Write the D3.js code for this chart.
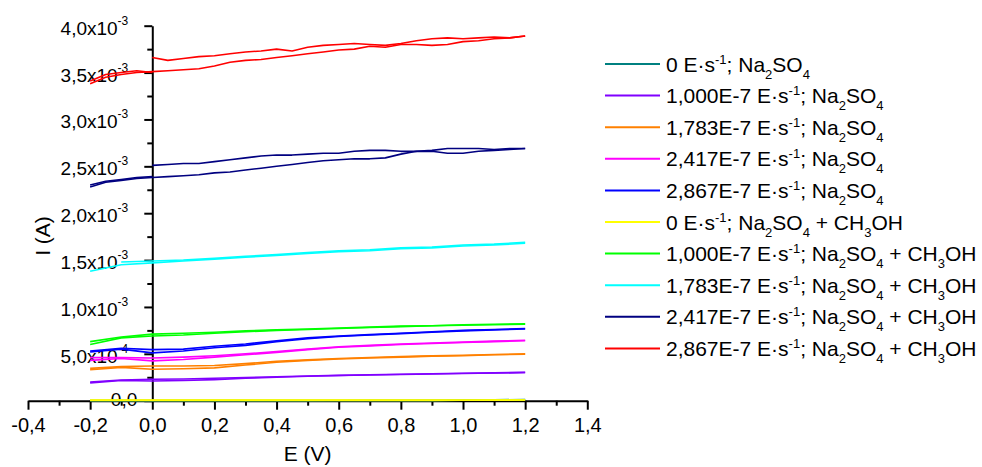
<!doctype html>
<meta charset="utf-8">
<script src="https://d3js.org/d3.v7.min.js"></script>
<style>
  body { margin: 0; background: #fff; }
  text { font-family: "Liberation Sans", Arial, sans-serif; fill: #000; }
</style>
<body>
<svg width="982" height="467"></svg>
<script>
// potential grids (V)
var eFine = [-0.2, -0.15, -0.1, -0.05, 0, 0.05, 0.1, 0.15, 0.2, 0.25, 0.3, 0.35, 0.4, 0.45, 0.5,
  0.55, 0.6, 0.65, 0.7, 0.75, 0.8, 0.85, 0.9, 0.95, 1.0, 1.05, 1.1, 1.15, 1.2];
var eCoarse = [-0.2, -0.1, 0, 0.1, 0.2, 0.3, 0.4, 0.5, 0.6, 0.7, 0.8, 0.9, 1.0, 1.1, 1.2];

// currents in mA (x 1e-3 A), forward and reverse sweep
var tealFwd = [0.002, 0.002, 0.002, 0.002, 0.002, 0.002, 0.002, 0.002, 0.002, 0.003, 0.003, 0.004, 0.006, 0.010, 0.012];
var tealRev = [0.001, 0.001, 0.001, 0.001, 0.001, 0.001, 0.001, 0.001, 0.002, 0.002, 0.002, 0.003, 0.005, 0.008, 0.010];
var violetFwd = [0.19, 0.215, 0.21, 0.215, 0.225, 0.24, 0.25, 0.26, 0.268, 0.274, 0.28, 0.285, 0.29, 0.295, 0.30];
var violetRev = [0.20, 0.22, 0.228, 0.232, 0.239, 0.247, 0.255, 0.263, 0.27, 0.276, 0.282, 0.287, 0.292, 0.297, 0.302];
var orangeFwd = [0.33, 0.355, 0.335, 0.34, 0.35, 0.38, 0.41, 0.43, 0.445, 0.455, 0.465, 0.475, 0.48, 0.49, 0.495];
var orangeRev = [0.345, 0.365, 0.37, 0.37, 0.375, 0.395, 0.42, 0.435, 0.45, 0.46, 0.47, 0.478, 0.485, 0.492, 0.50];
var magentaFwd = [0.43, 0.45, 0.425, 0.44, 0.465, 0.49, 0.515, 0.545, 0.57, 0.585, 0.60, 0.61, 0.62, 0.63, 0.64];
var magentaRev = [0.46, 0.46, 0.455, 0.465, 0.48, 0.50, 0.525, 0.55, 0.575, 0.59, 0.605, 0.615, 0.625, 0.635, 0.645];
var blueFwd = [0.52, 0.55, 0.51, 0.53, 0.565, 0.59, 0.63, 0.66, 0.685, 0.70, 0.715, 0.73, 0.745, 0.755, 0.765];
var blueRev = [0.53, 0.56, 0.545, 0.55, 0.58, 0.605, 0.64, 0.67, 0.69, 0.705, 0.72, 0.735, 0.75, 0.76, 0.77];
var yellowFwd = [0.006, 0.006, 0.006, 0.006, 0.006, 0.006, 0.006, 0.006, 0.006, 0.006, 0.006, 0.006, 0.007, 0.008, 0.008];
var yellowRev = [0.004, 0.004, 0.004, 0.004, 0.004, 0.004, 0.004, 0.004, 0.004, 0.004, 0.004, 0.004, 0.005, 0.006, 0.007];
var greenFwd = [0.60, 0.67, 0.69, 0.70, 0.72, 0.735, 0.75, 0.76, 0.77, 0.78, 0.79, 0.80, 0.805, 0.81, 0.815];
var greenRev = [0.63, 0.68, 0.71, 0.72, 0.73, 0.745, 0.755, 0.765, 0.775, 0.785, 0.795, 0.80, 0.81, 0.815, 0.82];
var cyanFwd = [1.38, 1.45, 1.47, 1.49, 1.51, 1.53, 1.55, 1.57, 1.59, 1.60, 1.62, 1.63, 1.65, 1.66, 1.68];
var cyanRev = [null, 1.48, 1.49, 1.50, 1.52, 1.54, 1.56, 1.58, 1.60, 1.61, 1.63, 1.64, 1.66, 1.67, 1.69];
var navyFwd = [2.28, 2.33, 2.35, 2.37, 2.38, 2.39, 2.40, 2.41, 2.43, 2.44, 2.46, 2.48, 2.50, 2.52, 2.54,
  2.56, 2.57, 2.58, 2.58, 2.59, 2.63, 2.66, 2.66, 2.64, 2.64, 2.66, 2.67, 2.68, 2.69];
var navyRev = [null, null, null, null, 2.51, 2.52, 2.53, 2.53, 2.55, 2.57, 2.59, 2.61, 2.62, 2.62, 2.63,
  2.64, 2.64, 2.66, 2.67, 2.67, 2.66, 2.66, 2.67, 2.69, 2.69, 2.69, 2.68, 2.69, 2.69];
// dense start region (-0.2 .. 0 V), second pass
var navyStart = [2.30, 2.34, 2.36, 2.38, 2.39];
var redFwd = [3.38, 3.45, 3.48, 3.50, 3.51, 3.52, 3.53, 3.54, 3.57, 3.61, 3.63, 3.64, 3.66, 3.68, 3.70,
  3.72, 3.74, 3.75, 3.78, 3.77, 3.80, 3.80, 3.79, 3.80, 3.83, 3.84, 3.86, 3.87, 3.89];
var redRev = [null, null, null, null, 3.66, 3.63, 3.65, 3.67, 3.68, 3.70, 3.72, 3.73, 3.75, 3.73, 3.77,
  3.79, 3.80, 3.81, 3.80, 3.79, 3.81, 3.84, 3.86, 3.87, 3.86, 3.87, 3.88, 3.87, 3.89];
var redStart = [3.41, 3.48, 3.50, 3.52, 3.50];

var rates = ["0", "1,000E-7", "1,783E-7", "2,417E-7", "2,867E-7",
  "0", "1,000E-7", "1,783E-7", "2,417E-7", "2,867E-7"];
var withMethanol = [false, false, false, false, false, true, true, true, true, true];
var colors = ["#008080", "#8000ff", "#ff8000", "#ff00ff", "#0000ff",
  "#ffff00", "#00ff00", "#00ffff", "#000080", "#ff0000"];

var xMajor = [-0.4, -0.2, 0, 0.2, 0.4, 0.6, 0.8, 1.0, 1.2, 1.4];
var xMinor = [-0.3, -0.1, 0.1, 0.3, 0.5, 0.7, 0.9, 1.1, 1.3];
var xTickLabels = ["-0,4", "-0,2", "0,0", "0,2", "0,4", "0,6", "0,8", "1,0", "1,2", "1,4"];
var yMajor = [0, 0.5e-3, 1.0e-3, 1.5e-3, 2.0e-3, 2.5e-3, 3.0e-3, 3.5e-3, 4.0e-3];
var yMinor = [0.25e-3, 0.75e-3, 1.25e-3, 1.75e-3, 2.25e-3, 2.75e-3, 3.25e-3, 3.75e-3];
var yTickMain = ["0,0", "5,0x10", "1,0x10", "1,5x10", "2,0x10", "2,5x10", "3,0x10", "3,5x10", "4,0x10"];
var yTickExp = ["", "-4", "-3", "-3", "-3", "-3", "-3", "-3", "-3"];

var series = [
  { e: eCoarse, branches: [tealFwd, tealRev] },
  { e: eCoarse, branches: [violetFwd, violetRev] },
  { e: eCoarse, branches: [orangeFwd, orangeRev] },
  { e: eCoarse, branches: [magentaFwd, magentaRev] },
  { e: eCoarse, branches: [blueFwd, blueRev] },
  { e: eCoarse, branches: [yellowFwd, yellowRev] },
  { e: eCoarse, branches: [greenFwd, greenRev] },
  { e: eCoarse, branches: [cyanFwd, cyanRev] },
  { e: eFine, branches: [navyFwd, navyRev, navyStart] },
  { e: eFine, branches: [redFwd, redRev, redStart] }
];

var svg = d3.select("svg");
svg.append("rect").attr("width", 982).attr("height", 467).attr("fill", "#fff");

var x = d3.scaleLinear().domain([-0.4, 1.4]).range([28, 587.3]);
var y = d3.scaleLinear().domain([0, 4.0e-3]).range([400.7, 25.7]);

// ---- axes ----
var xAxisG = svg.append("g").attr("transform", "translate(0," + y(0) + ")");
xAxisG.call(d3.axisBottom(x).tickValues(xMajor).tickSize(9).tickSizeOuter(0)
  .tickFormat(function (d, i) { return xTickLabels[i]; }));
xAxisG.append("g").call(d3.axisBottom(x).tickValues(xMinor).tickSize(5).tickFormat(""))
  .select(".domain").remove();
xAxisG.selectAll("text")
  .attr("y", 31).attr("dy", 0)
  .style("font-size", "20px");

var yAxisG = svg.append("g").attr("transform", "translate(" + x(0) + ",0)");
yAxisG.call(d3.axisLeft(y).tickValues(yMajor).tickSize(8).tickSizeOuter(0).tickFormat(""));
yAxisG.append("g").call(d3.axisLeft(y).tickValues(yMinor).tickSize(5).tickFormat(""))
  .select(".domain").remove();
yAxisG.selectAll(".tick text").remove();

svg.selectAll(".domain, .tick line").attr("stroke", "#000").attr("stroke-width", 2);

// y tick labels with exponents
var yLab = yAxisG.selectAll(".ylab").data(yMajor).enter().append("text")
  .attr("class", "ylab")
  .attr("x", function (d, i) { return i === 0 ? -15 : -24; })
  .attr("y", function (d, i) { return y(d) + (i === 0 ? 5 : 9); })
  .attr("text-anchor", "end")
  .style("font-size", "19px");
yLab.append("tspan").text(function (d, i) { return yTickMain[i]; });
yLab.append("tspan").attr("dy", -10).style("font-size", "12px")
  .text(function (d, i) { return yTickExp[i]; });

// axis titles
svg.append("text")
  .attr("x", (x(-0.4) + x(1.4)) / 2).attr("y", 461)
  .attr("text-anchor", "middle").style("font-size", "21px")
  .text("E (V)");
svg.append("text")
  .attr("transform", "translate(50,236) rotate(-90)")
  .attr("text-anchor", "middle").style("font-size", "21px")
  .text("I (A)");

// ---- curves ----
var line = d3.line()
  .defined(function (d) { return d[1] != null; })
  .x(function (d) { return x(d[0]); })
  .y(function (d) { return y(d[1] * 1e-3); });

series.forEach(function (s, k) {
  s.branches.forEach(function (vals) {
    var pts = vals.map(function (v, i) { return [s.e[i], v]; });
    svg.append("path")
      .attr("d", line(pts))
      .attr("fill", "none")
      .attr("stroke", colors[k])
      .attr("stroke-width", 1.6)
      .attr("stroke-linejoin", "round");
  });
});

// ---- legend ----
var legend = svg.append("g").attr("transform", "translate(605,64)");
var rows = legend.selectAll("g").data(rates).enter().append("g")
  .attr("transform", function (d, i) { return "translate(0," + (i * 31.6) + ")"; });
rows.append("line")
  .attr("x1", 0).attr("x2", 55).attr("y1", 0).attr("y2", 0)
  .attr("stroke", function (d, i) { return colors[i]; })
  .attr("stroke-width", 2);
var lt = rows.append("text").attr("x", 61).attr("y", 7.6).style("font-size", "21px");
lt.append("tspan").text(function (d) { return d + " E\u00b7s"; });
lt.append("tspan").attr("dy", -8).style("font-size", "13px").text("-1");
lt.append("tspan").attr("dy", 8).text("; Na");
lt.append("tspan").attr("dy", 7).style("font-size", "13px").text("2");
lt.append("tspan").attr("dy", -7).text("SO");
lt.append("tspan").attr("dy", 7).style("font-size", "13px").text("4");
lt.filter(function (d, i) { return withMethanol[i]; }).each(function () {
  var t = d3.select(this);
  t.append("tspan").attr("dy", -7).text(" + CH");
  t.append("tspan").attr("dy", 7).style("font-size", "13px").text("3");
  t.append("tspan").attr("dy", -7).text("OH");
});
</script>
</body>
